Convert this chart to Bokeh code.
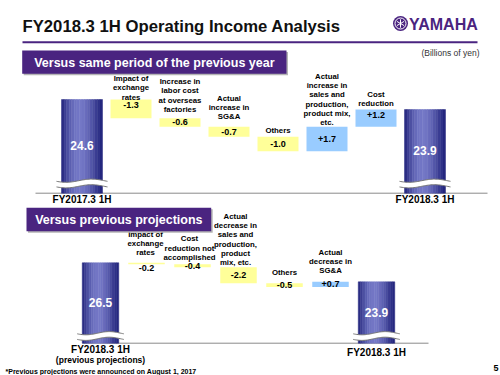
import numpy as np
from bokeh.plotting import figure
from bokeh.models import Range1d
from bokeh.core.properties import value
from bokeh.embed import file_html
from bokeh.resources import INLINE

# ---------------- data ----------------
title_text = "FY2018.3 1H Operating Income Analysis"
unit_text = "(Billions of yen)"
footnote_text = "*Previous projections were announced on August 1, 2017"
page_number = "5"

top_heading = "Versus same period of the previous year"
top_start_label = "FY2017.3 1H"
top_end_label = "FY2018.3 1H"
top_start_value = 24.6
top_end_value = 23.9
top_categories = [
    "Impact of\nexchange\nrates",
    "Increase in\nlabor cost\nat overseas\nfactories",
    "Actual\nincrease in\nSG&A",
    "Others",
    "Actual\nincrease in\nsales and\nproduction,\nproduct mix,\netc.",
    "Cost\nreduction",
]
top_changes = [-1.3, -0.6, -0.7, -1.0, 1.7, 1.2]

bot_heading = "Versus previous projections"
bot_start_label = "FY2018.3 1H\n(previous projections)"
bot_end_label = "FY2018.3 1H"
bot_start_value = 26.5
bot_end_value = 23.9
bot_categories = [
    "Impact of\nexchange\nrates",
    "Cost\nreduction not\naccomplished",
    "Actual\ndecrease in\nsales and\nproduction,\nproduct\nmix, etc.",
    "Others",
    "Actual\ndecrease in\nSG&A",
]
bot_changes = [-0.2, -0.4, -2.2, -0.5, 0.7]

# ---------------- style / layout ----------------
FONT = "Liberation Sans"
PURPLE = "#4A2480"
NEG = "#FFFF99"
POS = "#99CCFF"
GREY = "#8A8A8A"
W, H = 500, 375
X0, Y0 = 0, 0

p = figure(width=W, height=H, x_range=Range1d(X0, X0 + W), y_range=Range1d(Y0 + H, Y0),
           x_axis_type=None, y_axis_type=None, output_backend="svg",
           toolbar_location=None, min_border=0)
p.outline_line_color = None
p.background_fill_color = "white"
p.border_fill_color = "white"

extra_x = {}
extra_y = {}


def txt(x, y, s, size, bold=True, color="black", align="center", baseline="middle",
        xr="default", yr="default"):
    p.text(x=[x], y=[y], text=[s], text_font=value(FONT), text_font_size=f"{size}px",
           text_font_style="bold" if bold else "normal", text_color=color,
           text_align=align, text_baseline=baseline, x_range_name=xr, y_range_name=yr)


# ---- header ----
txt(22, 25.5, title_text, 16.7, align="left", color="#111111")
p.line([22, 477], [41.7, 41.7], line_color=PURPLE, line_width=2)
# logo emblem
p.scatter([400], [23], size=15, marker="circle", fill_color=PURPLE, line_color=None)
p.scatter([400], [23], size=11, marker="circle", fill_color=None, line_color="white", line_width=1)
for ang in (0, 60, 120):
    a = np.deg2rad(ang + 90)
    p.line([400 - 4.2 * np.cos(a), 400 + 4.2 * np.cos(a)],
           [23 - 4.2 * np.sin(a), 23 + 4.2 * np.sin(a)], line_color="white", line_width=1)
txt(408.5, 23.5, "YAMAHA", 16, color=PURPLE, align="left")
txt(450, 52, unit_text, 8.5, bold=False, color="#333333")


def banner(x1, x2, y1, y2, s):
    p.quad(left=[x1 + 1.5], right=[x2 + 1.5], top=[y1 + 1.5], bottom=[y2 + 1.5],
           fill_color="#B4B4B4", line_color=None)
    p.quad(left=[x1], right=[x2], top=[y1], bottom=[y2], fill_color=PURPLE, line_color=None)
    txt((x1 + x2) / 2, (y1 + y2) / 2 + 0.5, s, 12.5, color="white")


def grad_colors(k):
    t = (np.arange(k) + 0.5) / k
    f = np.clip(np.sin(np.pi * t ** 0.85), 0, 1) ** 1.3
    dark = np.array([34, 36, 124])
    light = np.array([116, 120, 198])
    cols = dark + (light - dark) * f[:, None]
    return ["#%02x%02x%02x" % tuple(int(round(c)) for c in col) for col in cols]


def draw_chart(name, start_val, end_val, changes, cats, start_lbl, end_lbl, cfg):
    xr, yr = name + "x", name + "y"
    pitch, scale = cfg["pitch"], cfg["scale"]
    extra_x[xr] = Range1d((X0 - cfg["x0"]) / pitch, (X0 + W - cfg["x0"]) / pitch)

    def v_at(py):
        return cfg["v_anchor"] - (py - cfg["py_anchor"]) / scale

    extra_y[yr] = Range1d(v_at(Y0 + H), v_at(Y0))
    n = len(changes)
    hw = cfg["width"] / pitch / 2
    levels = np.concatenate([[start_val], start_val + np.cumsum(changes)])

    # axis line
    p.line(list(cfg["axis_x"]), [cfg["axis_py"]] * 2, line_color=GREY, line_width=1)

    v_base = v_at(cfg["axis_py"])
    k = 16
    cols = grad_colors(k)
    for idx, val, lbl, lbl_y in ((0, start_val, start_lbl, cfg["start_name_y"]),
                                 (n + 1, end_val, end_lbl, cfg["end_name_y"])):
        edges = np.linspace(idx - hw, idx + hw, k + 1)
        p.quad(left=edges[:-1], right=edges[1:], bottom=[v_base] * k, top=[val] * k,
               fill_color=cols, line_color=cols, line_width=0.5,
               x_range_name=xr, y_range_name=yr)
        # broken-axis mark
        ext = 5 / pitch
        t = np.linspace(0, 1, 40)
        xs = (idx - hw - ext) + t * (2 * hw + 2 * ext)
        wave = 1.6 * np.sin(2 * np.pi * t + 0.4)
        yu = cfg["break_py"] - 2.8 + wave
        yl = cfg["break_py"] + 2.8 + wave
        p.patch(np.concatenate([xs, xs[::-1]]), np.concatenate([yu, yl[::-1]]),
                fill_color="white", line_color=None, x_range_name=xr)
        p.line(xs, yu, line_color="#777777", line_width=1, x_range_name=xr)
        p.line(xs, yl, line_color="#777777", line_width=1, x_range_name=xr)
        # value in bar
        top_px = cfg["py_anchor"] + (cfg["v_anchor"] - val) * scale
        lab_py = (top_px + cfg["break_py"] - 3) / 2 + 5
        txt(idx, v_at(lab_py), f"{val:.1f}", 12, color="white", xr=xr, yr=yr)
        # name under axis
        lines = lbl.split("\n")
        for j, ln in enumerate(lines):
            txt(idx, v_at(lbl_y[j]), ln, 10 if j == 0 else 8.5, xr=xr, yr=yr)

    # change boxes
    for i, ch in enumerate(changes):
        idx = i + 1
        lo, hi = sorted((levels[i], levels[i + 1]))
        p.quad(left=[idx - hw], right=[idx + hw], bottom=[lo], top=[hi],
               fill_color=NEG if ch < 0 else POS, line_color=None,
               x_range_name=xr, y_range_name=yr)
        vy = (lo + hi) / 2 if cfg["val_pos"][i] == "c" else hi - 5.2 / scale
        txt(idx, vy, f"{ch:+.1f}", 9, xr=xr, yr=yr)
        lines = cats[i].split("\n")
        last = cfg["label_last_y"][i]
        for j, ln in enumerate(lines):
            py = last - (len(lines) - 1 - j) * 9.2
            txt(idx + cfg["label_dx"][i] / pitch, v_at(py), ln, 7.8, xr=xr, yr=yr)


banner(21.7, 286, 50, 73.3, top_heading)

draw_chart("top", top_start_value, top_end_value, top_changes, top_categories,
           top_start_label, top_end_label,
           dict(x0=81.5, pitch=49, width=41, v_anchor=24.6, py_anchor=99, scale=14.36,
                axis_py=192.7, axis_x=(35, 487), break_py=183,
                label_last_y=[96.5, 108.7, 116, 130, 122, 103.3],
                label_dx=[0, 0, 0, 0, 0, 0],
                val_pos=["t", "c", "c", "c", "c", "t"],
                start_name_y=[198.5], end_name_y=[198.5]))

draw_chart("bot", bot_start_value, bot_end_value, bot_changes, bot_categories,
           bot_start_label, bot_end_label,
           dict(x0=100, pitch=46, width=36.5, v_anchor=26.5, py_anchor=262.3, scale=7.33,
                axis_py=342.7, axis_x=(82, 428), break_py=335.5,
                label_last_y=[252.3, 256.7, 262, 271.7, 270.3],
                label_dx=[-1, -3, -3, 0, 0],
                val_pos=["t", "c", "c", "c", "c"],
                start_name_y=[348.5, 359.5], end_name_y=[352]))

banner(26, 210.7, 207.3, 230.7, bot_heading)

p.extra_x_ranges = extra_x
p.extra_y_ranges = extra_y

txt(5, 371, footnote_text, 7, align="left")
txt(493, 367.5, page_number, 9, align="left")

open("out.html", "w").write(file_html(p, INLINE))
